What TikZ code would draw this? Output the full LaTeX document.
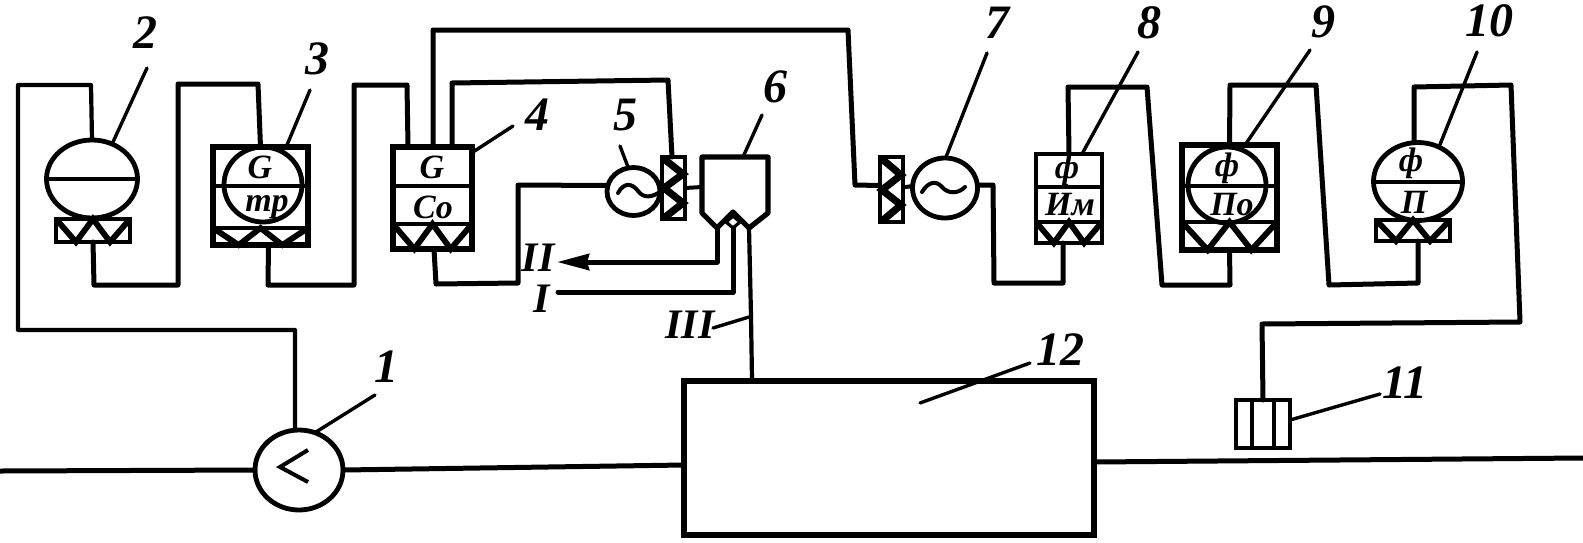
\documentclass[tikz,border=0pt]{standalone}
\usepackage{fontspec}
\setmainfont{Liberation Serif}
\usetikzlibrary{shapes.geometric,arrows.meta}
\tikzset{
  wire/.style={line width=2.5pt,line join=round,line cap=round},
  thinwire/.style={line width=2.1pt,line join=round,line cap=round},
  leader/.style={line width=1.7pt,line cap=round},
  num/.style={font=\fontsize{24}{24}\selectfont\bfseries\itshape,inner sep=0pt},
  romanlabel/.style={font=\fontsize{21}{21}\selectfont\itshape\bfseries,inner sep=0pt},
  inlabel/.style={font=\fontsize{17}{17}\selectfont\itshape\bfseries,inner sep=0pt},
  box/.style={draw,rectangle,line width=2.4pt,inner sep=0pt,outer sep=0pt},
  heavybox/.style={box,line width=3pt},
  disc/.style={draw,ellipse,line width=2.4pt,inner sep=0pt,outer sep=0pt},
  footline/.style={line width=2.9pt,line join=miter},
  coupline/.style={line width=3.6pt,line join=miter},
}
\newcommand{\footzig}[4]{\draw[footline] (#1,#3) -- ({#1+0.27*(#2-#1)},#4) -- ({#1+0.5*(#2-#1)},#3) -- ({#1+0.73*(#2-#1)},#4) -- (#2,#3);}
\begin{document}
\begin{tikzpicture}[x=0.5pt,y=-0.5pt]
\useasboundingbox (0,0) rectangle (1583,542);
\fill[white] (0,0) rectangle (1583,542);

% --- main devices
\node[disc,minimum width=44pt,minimum height=40pt] (c1) at (299,470) {};
\node[disc,minimum width=45.5pt,minimum height=39pt] (c2) at (92,179) {};
\node[box,minimum width=37pt,minimum height=11.5pt] (f2) at (93,230.5) {};
\node[heavybox,minimum width=47.5pt,minimum height=49pt] (b3) at (260.5,196) {};
\node[disc,minimum width=39pt,minimum height=37.5pt] (c3) at (263,184.5) {};
\node[heavybox,minimum width=39.5pt,minimum height=51pt] (b4) at (432.5,198) {};
\node[disc,minimum width=26.5pt,minimum height=24pt] (c5) at (633.5,191.5) {};
\node[box,fill=white,minimum width=11.5pt,minimum height=31pt] (k5) at (673.5,188) {};
\node[box,fill=white,minimum width=11.5pt,minimum height=32.5pt] (k7) at (891.5,189.5) {};
\node[disc,minimum width=32.5pt,minimum height=30pt] (c7) at (945,188) {};
\node[box,minimum width=33pt,minimum height=44.5pt] (b8) at (1069,198.5) {};
\node[heavybox,minimum width=47.5pt,minimum height=52.5pt] (b9) at (1229.5,197.5) {};
\node[disc,minimum width=39pt,minimum height=38pt] (c9) at (1227,185) {};
\node[disc,minimum width=44.5pt,minimum height=39pt] (c10) at (1418,181.5) {};
\node[box,minimum width=37pt,minimum height=10.5pt] (f10) at (1413,230.5) {};
\node[box,minimum width=27pt,minimum height=24pt] (b11) at (1263,424) {};
\node[box,line width=3pt,minimum width=205pt,minimum height=77pt] (b12) at (889,457.5) {};

% --- separator outlet of block 6
\coordinate (s1) at (702,157);
\coordinate (s2) at (768,157);
\coordinate (s3) at (768,213);
\coordinate (s4) at (749,228);
\coordinate (s5) at (733,212);
\coordinate (s6) at (717,228);
\coordinate (s7) at (702,213);
\draw[wire,line width=2.6pt] (s1) -- (s2) -- (s3) -- (s4) -- (s5) -- (s6) -- (s7) -- cycle;
\draw[line width=1.6pt] (726,222) -- (733,216) -- (740,222) -- (733,228) -- cycle;
\coordinate (s8) at (702,187);

% --- inner details
\draw[line width=2pt] (c2.west) -- (c2.east);
\footzig{56}{130}{219}{242}
\draw[line width=2pt] (213,186) -- (308,186);
\draw[line width=2pt] (213,228) -- (308,228);
\footzig{213}{308}{228}{245}
\draw[line width=2.4pt] (393,186) -- (472,186);
\draw[line width=2.4pt] (393,224) -- (472,224);
\footzig{393}{472}{224}{249}
\draw[coupline] (664,159) -- (683,174) -- (664,188) -- (683,203) -- (664,218);
\draw[coupline] (882,159) -- (901,175) -- (882,190) -- (901,205) -- (882,221);
\draw[line width=2pt] (1036,187) -- (1102,187);
\draw[line width=2pt] (1036,222) -- (1102,222);
\footzig{1036}{1102}{222}{243}
\draw[line width=2pt] (1182,186) -- (1277,186);
\draw[line width=2pt] (1182,222) -- (1277,222);
\footzig{1182}{1277}{222}{250}
\draw[line width=2pt] (c10.west) -- (c10.east);
\footzig{1376}{1450}{220}{241}
\draw[line width=1.8pt] (1252,400) -- (1252,448);
\draw[line width=1.8pt] (1274,400) -- (1274,448);
\draw[line width=2pt,line join=miter] (308,450) -- (280,467) -- (308,482);
\draw[line width=2pt,line cap=round] (618,193) .. controls (624,182) and (632,183) .. (638,191) .. controls (644,199) and (652,197) .. (660,192);
\draw[line width=2pt,line cap=round] (922,192) .. controls (928,182) and (936,180) .. (942,187) .. controls (948,194) and (958,194) .. (965,187);

% --- connectors
\draw[thinwire] ([xshift=-2pt]c1.north) -- (295,330) -- (18,330) -- (18,85) -- (91,85) -- (c2.north);
\draw[wire] (f2.south) -- (94,285) -- (178,285) -- (178,84) -- (258,84) -- (b3.north);
\draw[wire] ([xshift=4pt]b3.south) -- (268,285) -- (354,285) -- (354,85) -- (407,85) -- (408,147);
\draw[wire] (433,147) -- (433,30) -- (848,30) -- (855,185) -- ([yshift=2pt]k7.west);
\draw[wire] (452,147) -- (452,83) -- (668,80) -- (672,157);
\draw[wire] (434,249) -- (436,284) -- (518,283) -- (518,185) -- ([yshift=3pt]c5.west);
\draw[line width=2pt] (k5.east) -- (s8);
\draw[line width=2pt] (c5.east) -- (k5.west);
\draw[line width=2pt] ([yshift=1pt]k7.east) -- ([yshift=1pt]c7.west);
\draw[wire] ([yshift=1.5pt]c7.east) -- (993,185) -- (994,283) -- (1063,283) -- ([xshift=-3pt]b8.south);
\draw[wire] (b8.north) -- (1068,87) -- (1147,87) -- (1162,285) -- (1230,285) -- (b9.south);
\draw[wire] (b9.north) -- (1230,85) -- (1316,85) -- (1329,285) -- (1418,283) -- (1418,241);
\draw[wire] ([xshift=-2pt]c10.north) -- (1414,87) -- (1511,85) -- (1520,322) -- (1262,324) -- (b11.north);
\draw[wire,-{Stealth[length=16pt,width=8pt,inset=1pt]}] (s6) -- (717,262) -- (557,262);
\draw[wire] (733,228) -- (733,292) -- (558,292);
\draw[thinwire] (s4) -- (751,316) -- (752,380);
\draw[wire] (0,471) -- (c1.west);
\draw[wire] (c1.east) -- (b12.west |- 0,465);
\draw[wire] (b12.east |- 0,462) -- (1583,458);

% --- leaders
\draw[leader] (316,432) -- (375,395);
\draw[leader] (113,142) -- (147,68);
\draw[leader] (287,145) -- (310,90);
\draw[leader] (473,152) -- (513,126);
\draw[leader] (628,167) -- (620,146);
\draw[leader] (743,157) -- (762,115);
\draw[leader] (946,157) -- (987,53);
\draw[leader] (1082,154) -- (1138,52);
\draw[leader] (1245,145) -- (1310,50);
\draw[leader] (1439,147) -- (1477,52);
\draw[leader] (920,403) -- (1030,363);
\draw[leader] (1290,420) -- (1380,394);
\draw[leader] (713,328) -- (749,317);

% --- numbers
\node[num] (n1) at (386,367) {1};
\node[num] (n2) at (145,33) {2};
\node[num] (n3) at (317,59) {3};
\node[num] (n4) at (537,115) {4};
\node[num] (n5) at (625,115) {5};
\node[num] (n6) at (775,87) {6};
\node[num] (n7) at (997,23) {7};
\node[num] (n8) at (1149,23) {8};
\node[num] (n9) at (1323,22) {9};
\node[num] (n10) at (1489,21) {10};
\node[num] (n11) at (1405,383) {11};
\node[num] (n12) at (1060,350) {12};
\node[romanlabel] (r2) at (538,258) {II};
\node[romanlabel] (r1) at (542,299) {I};
\node[romanlabel] (r3) at (690,325) {III};

% --- inner labels
\node[inlabel] (l1) at (260,167) {G};
\node[inlabel] (l2) at (267,207) {тр};
\node[inlabel] (l3) at (432,167) {G};
\node[inlabel] (l4) at (433,207) {Co};
\node[inlabel] (l5) at (1067,170) {ф};
\node[inlabel] (l6) at (1070,205) {Им};
\node[inlabel] (l7) at (1227,168) {ф};
\node[inlabel] (l8) at (1232,205) {По};
\node[inlabel] (l9) at (1411,163) {ф};
\node[inlabel] (l10) at (1414,202) {П};
\end{tikzpicture}
\end{document}
